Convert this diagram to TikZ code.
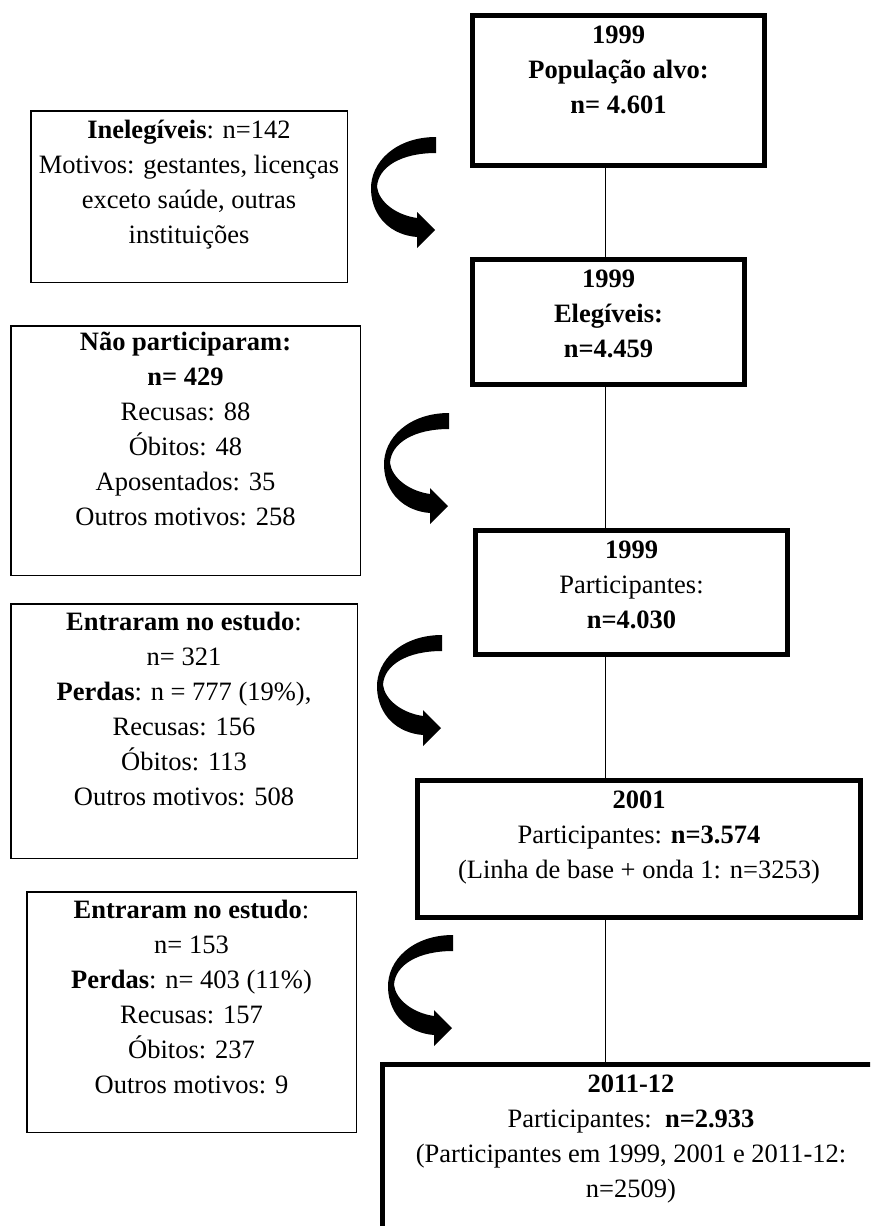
\documentclass[tikz,border=0pt]{standalone}
\usepackage{fontspec}
\setmainfont{Liberation Serif}
\newcommand{\mylines}[1]{\begin{tabular}[t]{@{}c@{}}#1\end{tabular}}
\begin{document}
\begin{tikzpicture}[x=1pt,y=-1pt,
  thickbox/.style={draw, line width=5pt, inner sep=0pt},
  thinbox/.style={draw, line width=1.5pt, inner sep=0pt},
  txt/.style={anchor=base, inner sep=0pt, font=\fontsize{26.5}{35}\selectfont},
  link/.style={line width=1pt},
  curvarrow/.pic={\fill (0,0) .. controls (-40,0) and (-66,25) .. (-65,53)
     .. controls (-64,80) and (-45,98) .. (-19,100) -- (-19,111) -- (-1,93)
     -- (-19,75) -- (-19,81) .. controls (-40,78) and (-57,65) .. (-59,50)
     .. controls (-58,30) and (-35,16) .. (0,16) -- cycle;}]
\useasboundingbox (0,0) rectangle (870,1226);
\clip (0,0) rectangle (870,1226);

% main column boxes
\node[thickbox, minimum width=292pt, minimum height=150pt] (pop) at (618.5,90.5) {};
\node[thickbox, minimum width=272pt, minimum height=125pt] (eleg) at (608.5,322) {};
\node[thickbox, minimum width=312pt, minimum height=124pt] (p99) at (631.5,592.5) {};
\node[thickbox, minimum width=443pt, minimum height=137pt] (p01) at (639,849) {};
\node[thickbox, minimum width=497pt, minimum height=193pt] (p11) at (631,1161) {};

% side boxes
\node[thinbox, minimum width=316.5pt, minimum height=171.5pt] (inel) at (189,196.5) {};
\node[thinbox, minimum width=349.5pt, minimum height=249.5pt] (nao) at (185.5,450.5) {};
\node[thinbox, minimum width=346.5pt, minimum height=254.5pt] (e1) at (184,731) {};
\node[thinbox, minimum width=329.5pt, minimum height=240.5pt] (e2) at (191.5,1012) {};

% texts
\node[txt] (popT) at (618.5,43) {\mylines{\textbf{1999}\\\textbf{População alvo:}\\\textbf{n= 4.601}}};
\node[txt] (elegT) at (608.5,287) {\mylines{\textbf{1999}\\\textbf{Elegíveis:}\\\textbf{n=4.459}}};
\node[txt] (p99T) at (631.5,558) {\mylines{\textbf{1999}\\Participantes:\\\textbf{n=4.030}}};
\node[txt] (p01T) at (639,808) {\mylines{\textbf{2001}\\Participantes: \textbf{n=3.574}\\(Linha de base + onda 1: n=3253)}};
\node[txt] (p11T) at (631,1092) {\mylines{\textbf{2011-12}\\Participantes:\ \ \textbf{n=2.933}\\(Participantes em 1999, 2001 e 2011-12:\\n=2509)}};

\node[txt] (inelT) at (189,138) {\mylines{\textbf{Inelegíveis}: n=142\\Motivos: gestantes, licenças\\exceto saúde, outras\\instituições}};
\node[txt] (naoT) at (185.5,350) {\mylines{\textbf{Não participaram:}\\\textbf{n= 429}\\Recusas: 88\\Óbitos: 48\\Aposentados: 35\\Outros motivos: 258}};
\node[txt] (e1T) at (184,630) {\mylines{\textbf{Entraram no estudo}:\\n= 321\\\textbf{Perdas}: n = 777 (19\%),\\Recusas: 156\\Óbitos: 113\\Outros motivos: 508}};
\node[txt] (e2T) at (191.5,918) {\mylines{\textbf{Entraram no estudo}:\\n= 153\\\textbf{Perdas}: n= 403 (11\%)\\Recusas: 157\\Óbitos: 237\\Outros motivos: 9}};

% vertical connectors
\coordinate (axis) at (605,0);
\draw[link] (pop.south -| axis) -- (eleg.north -| axis);
\draw[link] (eleg.south -| axis) -- (p99.north -| axis);
\draw[link] (p99.south -| axis) -- (p01.north -| axis);
\draw[link] (p01.south -| axis) -- (p11.north -| axis);

% curved arrows
\pic (a1) at (436,137) {curvarrow};
\pic (a2) at (449,413) {curvarrow};
\pic (a3) at (442,635) {curvarrow};
\pic (a4) at (453,935) {curvarrow};
\end{tikzpicture}
\end{document}
